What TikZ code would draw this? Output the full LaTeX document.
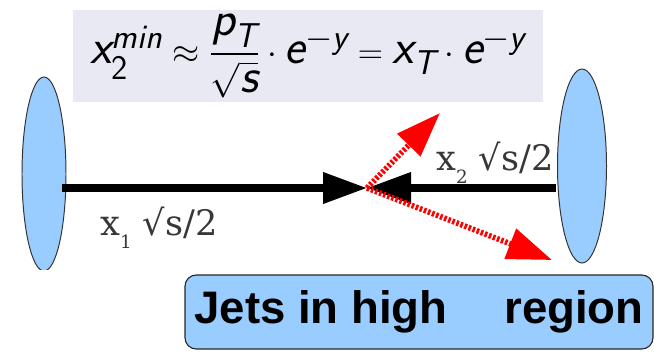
\documentclass[tikz,border=0pt]{standalone}
\usepackage{amsmath,amssymb}
\usepackage{fontspec}
\usepackage{xcolor}
\usepackage{tikz}
\usetikzlibrary{arrows.meta, positioning, shapes.geometric}

\newfontfamily\jetfont{Liberation Sans}
\newfontfamily\beamfont{DejaVu Serif}
\definecolor{protonblue}{RGB}{153,204,255}
\definecolor{formbg}{RGB}{233,233,243}
\definecolor{labelgray}{RGB}{55,55,55}
\newcommand{\sv}[1]{\textsf{\slshape #1}}
\newcommand{\su}[1]{\textsf{#1}}
\newcommand{\lowsub}[1]{\raisebox{-9.5pt}{\fontsize{13pt}{13pt}\selectfont #1}}

\begin{document}
\begin{tikzpicture}[
        proton/.style={ellipse, draw=black!80, line width=0.7pt, fill=protonblue, inner sep=0pt},
        beam/.style={line width=5pt, -{Triangle[length=1.1cm, width=0.75cm]}},
        jet/.style={red, line width=4pt, dash pattern=on 1.8pt off 1.3pt,
            -{Triangle[length=1.12cm, width=0.78cm]}},
        beamlabel/.style={font=\beamfont\fontsize{25pt}{29pt}\selectfont, text=labelgray, inner sep=0pt}
    ]
        \useasboundingbox (0,0) rectangle (16.35,8.85);

        % formula on top
        \node[fill=formbg, minimum width=11.75cm, minimum height=2.3cm, inner sep=0pt] (formula) at (7.7,7.45)
            {\fontsize{35pt}{41pt}\selectfont
            $\displaystyle \sv{x}_{\su{2}}^{\sv{min}} \approx \frac{\sv{p}_{\sv{T}}}{\sqrt{\sv{s}}}\cdot \sv{e}^{-\sv{y}}
            = \sv{x}_{\sv{T}}\cdot \sv{e}^{-\sv{y}}$};

        % the two protons
        \begin{scope}
            \clip (0,2.125) rectangle (3,8.85);
            \node[proton, minimum width=1.1cm, minimum height=4.85cm] (protonL) at (1.1,4.5) {};
        \end{scope}
        \node[proton, minimum width=1.225cm, minimum height=4.85cm] (protonR) at (14.55,4.7) {};

        \coordinate (beamL) at (1.55,4.15);
        \coordinate (beamR) at (13.9,4.15);
        \coordinate (hit) at (9.175,4.15);
        \coordinate (jetA) at (11.0,6.025);
        \coordinate (jetB) at (13.8,2.35);

        \draw[beam] (beamR) -- (hit);
        \draw[beam] (beamL) -- (hit);
        \draw[jet] (hit) -- (jetA);
        \draw[jet] (hit) -- (jetB);

        \node[beamlabel, anchor=base west] (xone) at (2.5,2.975) {x\lowsub{1} √s/2};
        \node[beamlabel, anchor=base west] (xtwo) at (10.9,4.6) {x\lowsub{2} √s/2};

        % jets box
        \node[draw=black!85, line width=0.8pt, fill=protonblue, rounded corners=8pt,
            minimum width=11.7cm, minimum height=1.85cm, inner sep=0pt] (jets) at (10.475,1.05)
            {\jetfont\bfseries\fontsize{32.4pt}{38pt}\selectfont Jets in high\hspace{1.1cm} region};
    \end{tikzpicture}
\end{document}
